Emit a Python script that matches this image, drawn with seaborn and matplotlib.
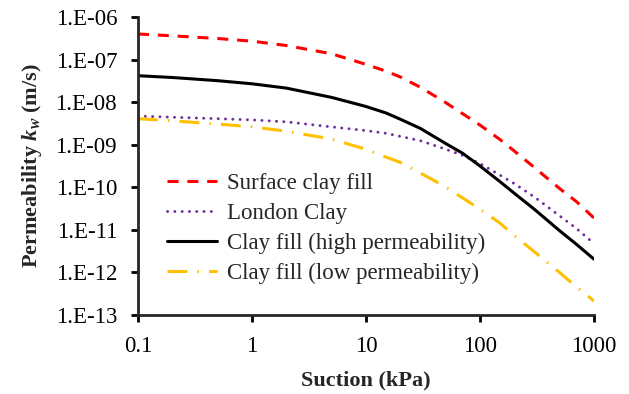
import numpy as np
import pandas as pd
import matplotlib
matplotlib.use("Agg")
import matplotlib.pyplot as plt
from matplotlib.ticker import FixedLocator, FuncFormatter, NullLocator
import seaborn as sns

# ---- data (log10 of permeability in m/s) ----
suction = [0.1, 0.2, 0.5, 1, 2, 5, 10, 15, 20, 30, 50, 70, 100, 150, 200, 300, 500, 700, 1000]
surface_clay_fill_log = [-6.399, -6.442, -6.505, -6.568, -6.670, -6.864, -7.113, -7.273, -7.409, -7.651,
                         -8.011, -8.267, -8.539, -8.880, -9.148, -9.535, -10.031, -10.334, -10.722]
london_clay_log = [-8.326, -8.354, -8.389, -8.417, -8.462, -8.582, -8.668, -8.732, -8.805, -8.906,
                   -9.106, -9.246, -9.442, -9.716, -9.914, -10.228, -10.672, -10.966, -11.323]
clay_fill_high_log = [-7.379, -7.421, -7.496, -7.569, -7.670, -7.889, -8.102, -8.255, -8.401, -8.617,
                      -8.972, -9.197, -9.500, -9.869, -10.141, -10.517, -11.022, -11.337, -11.689]
clay_fill_low_log = [-8.389, -8.438, -8.516, -8.579, -8.683, -8.868, -9.108, -9.291, -9.416, -9.665,
                     -9.993, -10.247, -10.513, -10.844, -11.133, -11.516, -12.002, -12.338, -12.671]

series_names = ["Surface clay fill", "London Clay",
                "Clay fill (high permeability)", "Clay fill (low permeability)"]
series_logs = [surface_clay_fill_log, london_clay_log, clay_fill_high_log, clay_fill_low_log]
x_ticks = [0.1, 1, 10, 100, 1000]
x_tick_labels = ["0.1", "1", "10", "100", "1000"]
y_ticks = [1e-13, 1e-12, 1e-11, 1e-10, 1e-9, 1e-8, 1e-7, 1e-6]

# ---- style ----
sns.set_style("ticks")
plt.rcParams["font.family"] = ["Liberation Serif", "DejaVu Serif"]
plt.rcParams["mathtext.fontset"] = "custom"
plt.rcParams["mathtext.it"] = "Liberation Serif:bold:italic"
plt.rcParams["mathtext.rm"] = "Liberation Serif:bold"
plt.rcParams["mathtext.bf"] = "Liberation Serif:bold"

colors = ["#FF0000", "#7030A0", "#000000", "#FFC000"]
widths = [2.2, 2.1, 2.2, 2.2]
dashes = [(3.6, 2.9), (0.05, 2.45), None, (6.5, 3.3, 0.5, 3.3)]

fig = plt.figure(figsize=(6.29, 3.94), dpi=100)
ax = fig.add_axes([138 / 629, 1 - 315 / 394, (594 - 138) / 629, (315 - 17) / 394])

for name, logs, c, w, d in zip(series_names, series_logs, colors, widths, dashes):
    df = pd.DataFrame({"Suction": suction, "k": np.power(10.0, logs)})
    sns.lineplot(data=df, x="Suction", y="k", ax=ax, color=c, lw=w, label=name)
    line = ax.get_lines()[-1]
    if d is not None:
        line.set_dashes(d)
    line.set_dash_capstyle("round" if name == "London Clay" else "butt")

ax.set_xscale("log")
ax.set_yscale("log")
ax.set_xlim(0.1, 1000)
ax.set_ylim(1e-13, 1e-6)
ax.xaxis.set_major_locator(FixedLocator(x_ticks))
ax.xaxis.set_minor_locator(NullLocator())
ax.set_xticklabels(x_tick_labels)
ax.yaxis.set_major_locator(FixedLocator(y_ticks))
ax.yaxis.set_minor_locator(NullLocator())
ax.yaxis.set_major_formatter(FuncFormatter(lambda v, p: "1.E-%02d" % int(round(-np.log10(v)))))

for s in ["top", "right"]:
    ax.spines[s].set_visible(False)
for s in ["left", "bottom"]:
    ax.spines[s].set_linewidth(2.0)
ax.tick_params(axis="both", which="major", direction="out", length=5, width=2.0,
               labelsize=16.5, colors="black")
ax.tick_params(axis="y", pad=10)
ax.tick_params(axis="x", pad=10)

ax.set_xlabel("Suction (kPa)", fontsize=16, fontweight="bold", labelpad=10)
ax.set_ylabel(r"Permeability $k_w$ (m/s)", fontsize=16, fontweight="bold", labelpad=8)

leg = ax.legend(loc="upper left", bbox_to_anchor=(0.063, 0.475), frameon=False,
                fontsize=16.5, handlelength=2.2, handletextpad=0.45,
                labelspacing=0.38, borderpad=0, borderaxespad=0)

fig.savefig("out.png", dpi=100)
